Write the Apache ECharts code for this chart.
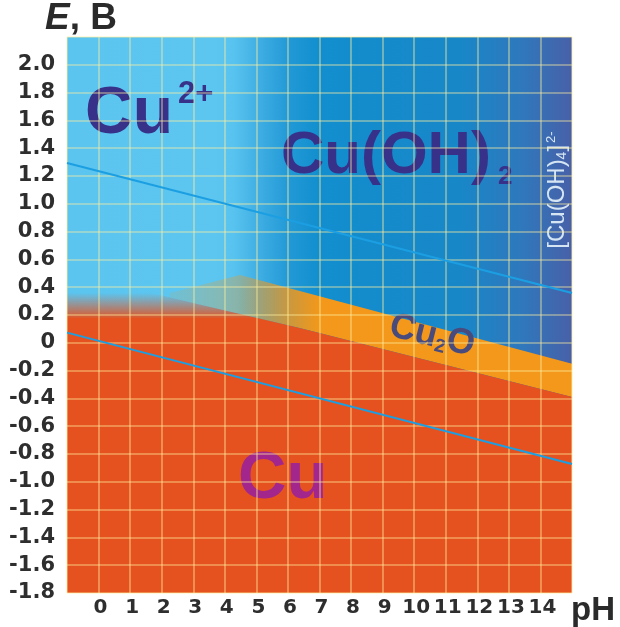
<!DOCTYPE html>
<html>
<head>
<meta charset="utf-8">
<script src="https://cdn.jsdelivr.net/npm/echarts@6/dist/echarts.min.js"></script>
<style>html,body{margin:0;padding:0;background:#fff}#c{width:620px;height:627px}</style>
</head>
<body>
<div id="c"></div>
<script>
// ---- data (pH, E in volts) ----
const phRange = [-1, 15];
const eRange = [-1.8, 2.2];
const phTickLabels = [0,1,2,3,4,5,6,7,8,9,10,11,12,13,14];
const eTickLabels = [-1.8,-1.6,-1.4,-1.2,-1.0,-0.8,-0.6,-0.4,-0.2,0,0.2,0.4,0.6,0.8,1.0,1.2,1.4,1.6,1.8,2.0];

// region outlines (pH, E)
const bluePoly   = [[-1,-1.8],[15,-1.8],[15,2.2],[-1,2.2]];
const cu2oPoly   = [[2.26,0.358],[4.48,0.488],[15,-0.15],[15,-0.39],[6.4,0.105],[3.2,0.275],[2.26,0.327]];
const cuPoly     = [[-1,-1.8],[15,-1.8],[15,-0.39],[6.4,0.105],[5.03,0.178],[-1,0.178]];
const cuFadePoly = [[-1,0.178],[5.03,0.178],[3.2,0.275],[1.69,0.358],[-1,0.358]];

// water stability lines
const o2Line = [[-1,1.293],[15,0.358]];
const h2Line = [[-1,0.073],[15,-0.872]];

// ---- chart ----
const G = echarts.graphic;
const regionFills = [
  new G.LinearGradient(0,0,1,0,[
    {offset:0,color:'#5BC4EF'},{offset:0.29,color:'#5CC6F0'},{offset:0.33,color:'#58C3EF'},
    {offset:0.38,color:'#3FAEE3'},{offset:0.44,color:'#2199D6'},{offset:0.50,color:'#128ECE'},
    {offset:0.78,color:'#1887C8'},{offset:0.9,color:'#2F78BC'},{offset:1,color:'#4860A8'}]),
  new G.LinearGradient(0,0,1,0,[
    {offset:0,color:'rgba(243,152,26,0.12)'},{offset:0.174,color:'rgba(243,152,26,0.33)'},
    {offset:0.294,color:'rgba(243,152,26,0.8)'},{offset:0.372,color:'rgba(243,152,26,1)'},
    {offset:1,color:'rgba(243,152,26,1)'}]),
  '#E5521F',
  new G.LinearGradient(0,0,0,1,[
    {offset:0,color:'rgba(229,82,31,0)'},{offset:1,color:'rgba(229,82,31,0.95)'}])
];
const regionPolys = [bluePoly, cu2oPoly, cuPoly, cuFadePoly];

const FF = '"Liberation Sans", Arial, sans-serif';
function textSeries(point, formatter, rich, extra) {
  return {
    type: 'scatter', silent: true, z: 2, symbolSize: 1,
    itemStyle: {color: 'rgba(0,0,0,0)', opacity: 1},
    emphasis: {disabled: true},
    data: [point],
    label: Object.assign({show: true, position: 'inside', formatter: formatter, rich: rich,
      align: 'left', verticalAlign: 'middle', opacity: 1, textBorderWidth: 0}, extra || {})
  };
}

const chart = echarts.init(document.getElementById('c'), null, {renderer: 'canvas'});
chart.setOption({
  animation: false,
  grid: {left: 67, right: 48, top: 37, bottom: 34},
  xAxis: {
    type: 'value', min: phRange[0], max: phRange[1], interval: 1, z: 3,
    axisLine: {show: false}, axisTick: {show: false},
    splitLine: {show: true, lineStyle: {color: 'rgba(255,240,160,0.5)', width: 1.6}},
    axisLabel: {
      margin: 5, color: '#2E2E2E', fontFamily: '"DejaVu Sans"', fontWeight: 'bold', fontSize: 20,
      padding: [0,0,0,4],
      formatter: v => phTickLabels.indexOf(Math.round(v)) >= 0 ? String(Math.round(v)) : ''
    }
  },
  yAxis: {
    type: 'value', min: eRange[0], max: eRange[1], interval: 0.2, z: 3,
    axisLine: {show: false}, axisTick: {show: false},
    splitLine: {show: true, lineStyle: {color: 'rgba(255,240,160,0.5)', width: 1.6}},
    axisLabel: {
      margin: 12, color: '#2E2E2E', fontFamily: '"DejaVu Sans"', fontWeight: 'bold', fontSize: 21,
      formatter: v => {
        const r = Math.round(v * 10) / 10;
        const ok = eTickLabels.some(t => Math.abs(t - r) < 1e-6);
        if (!ok) return '';
        return Math.abs(r) < 1e-9 ? '0' : r.toFixed(1);
      }
    }
  },
  graphic: [
    {type: 'text', x: 45, y: 19, silent: true,
      style: {text: '{i|E}{n|, B}', verticalAlign: 'middle', align: 'left',
        rich: {i: {fontFamily: FF, fontSize: 37, fontWeight: 'bold', fontStyle: 'italic', fill: '#2A2A2A'},
               n: {fontFamily: FF, fontSize: 37, fontWeight: 'bold', fill: '#2A2A2A'}}}},
    {type: 'text', x: 571, y: 611, silent: true,
      style: {text: 'pH', font: 'bold 33px ' + FF, fill: '#2A2A2A', verticalAlign: 'middle', align: 'left'}}
  ],
  series: [
    {
      type: 'custom', silent: true, z: 1, clip: true,
      data: regionPolys.map(p => p[0]),
      renderItem: function (params, api) {
        const pts = regionPolys[params.dataIndex].map(p => api.coord(p));
        return {type: 'polygon', shape: {points: pts}, style: {fill: regionFills[params.dataIndex]}};
      }
    },
    textSeries([-0.43, 1.639], '{m|Cu}{s|2+}', {
      m: {fontFamily: FF, fontSize: 66, fontWeight: 'bold', color: '#37318A', lineHeight: 66, verticalAlign: 'top'},
      s: {fontFamily: FF, fontSize: 31, fontWeight: 'bold', color: '#37318A', lineHeight: 9, height: 24, verticalAlign: 'top', padding: [0,0,0,5]}
    }),
    textSeries([5.78, 1.344], '{m|Cu(OH)}{s|2}', {
      m: {fontFamily: FF, fontSize: 60, fontWeight: 'bold', color: '#37318A', lineHeight: 60, verticalAlign: 'top'},
      s: {fontFamily: FF, fontSize: 26, fontWeight: 'bold', color: '#37318A', lineHeight: 4, verticalAlign: 'top', padding: [38,0,0,7]}
    }),
    textSeries([4.418, -0.983], '{m|Cu}', {
      m: {fontFamily: FF, fontSize: 67, fontWeight: 'bold', color: '#A3268D', lineHeight: 67}
    }),
    textSeries([10.565, 0.049], '{m|Cu}{s|2}{m|O}', {
      m: {fontFamily: FF, fontSize: 36, fontWeight: 'bold', color: '#4A4B7D', lineHeight: 36, verticalAlign: 'top'},
      s: {fontFamily: FF, fontSize: 19, fontWeight: 'bold', color: '#4A4B7D', lineHeight: 10, verticalAlign: 'bottom'}
    }, {align: 'center', rotate: -14}),
    textSeries([14.525, 1.099], '{m|[Cu(OH)}{s|4}{m|]}{p|2-}', {
      m: {fontFamily: FF, fontSize: 24, color: '#D5E5F3', lineHeight: 24, verticalAlign: 'top'},
      s: {fontFamily: FF, fontSize: 14, color: '#D5E5F3', lineHeight: 16, verticalAlign: 'bottom'},
      p: {fontFamily: FF, fontSize: 13, color: '#D5E5F3', lineHeight: 4, verticalAlign: 'top', padding: [0,0,0,2]}
    }, {align: 'center', rotate: 90}),
    {type: 'line', silent: true, z: 4, data: o2Line, symbol: 'none',
      lineStyle: {color: '#1C9FE2', width: 2}},
    {type: 'line', silent: true, z: 4, data: h2Line, symbol: 'none',
      lineStyle: {color: '#1C9FE2', width: 2}}
  ]
});
</script>
</body>
</html>
